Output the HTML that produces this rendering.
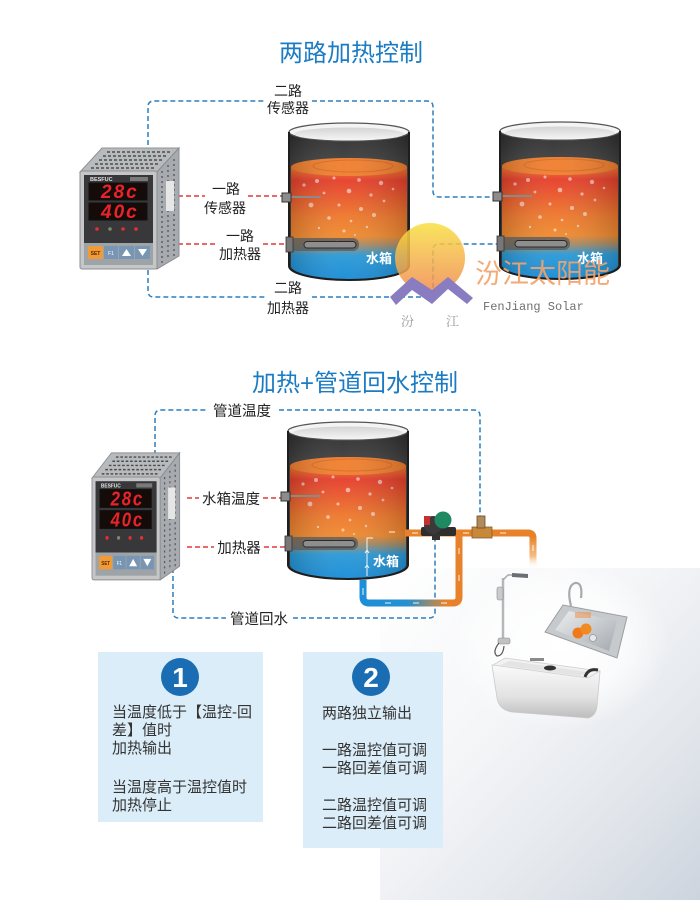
<!DOCTYPE html>
<html><head><meta charset="utf-8">
<style>
html,body{margin:0;padding:0;background:#fff;}
svg{display:block}
text{font-family:"Liberation Sans","Noto Sans CJK SC",sans-serif;}
</style></head><body>
<svg width="700" height="900" viewBox="0 0 700 900" xmlns="http://www.w3.org/2000/svg">
<defs>
  <linearGradient id="bgG" x1="0" y1="0" x2="1" y2="1">
    <stop offset="0" stop-color="#ffffff"/>
    <stop offset="0.4" stop-color="#f5f6f8"/>
    <stop offset="0.72" stop-color="#e3e7ec"/>
    <stop offset="1" stop-color="#cdd4de"/>
  </linearGradient>
  <radialGradient id="glowG" cx="0.5" cy="0.5" r="0.5">
    <stop offset="0" stop-color="#fff" stop-opacity="1"/>
    <stop offset="0.6" stop-color="#fff" stop-opacity=".7"/>
    <stop offset="1" stop-color="#fff" stop-opacity="0"/>
  </radialGradient>
  <linearGradient id="bodyG" x1="0" y1="0" x2="0" y2="1">
    <stop offset="0" stop-color="#2c2c2c"/>
    <stop offset="0.3" stop-color="#4a4a4a"/>
    <stop offset="1" stop-color="#3a3a3a"/>
  </linearGradient>
  <linearGradient id="bodyH" x1="0" y1="0" x2="1" y2="0">
    <stop offset="0" stop-color="#000" stop-opacity=".35"/>
    <stop offset="0.45" stop-color="#fff" stop-opacity=".08"/>
    <stop offset="1" stop-color="#000" stop-opacity=".35"/>
  </linearGradient>
  <linearGradient id="waterG" x1="0" y1="0" x2="0" y2="1">
    <stop offset="0" stop-color="#f07a2c"/>
    <stop offset="0.12" stop-color="#e63e2b"/>
    <stop offset="0.25" stop-color="#e9552b"/>
    <stop offset="0.45" stop-color="#ee792c"/>
    <stop offset="0.62" stop-color="#ef8a30"/>
    <stop offset="0.7" stop-color="#a38c6a"/>
    <stop offset="0.79" stop-color="#2a9ad8"/>
    <stop offset="1" stop-color="#1a8cd6"/>
  </linearGradient>
  <linearGradient id="rimG" x1="0" y1="0" x2="0" y2="1">
    <stop offset="0" stop-color="#d4d4d4"/>
    <stop offset="1" stop-color="#f6f6f6"/>
  </linearGradient>
  <linearGradient id="sunG" x1="0" y1="0" x2="0" y2="1">
    <stop offset="0" stop-color="#f8e040"/>
    <stop offset="0.45" stop-color="#f5b84a"/>
    <stop offset="1" stop-color="#ef8a4e"/>
  </linearGradient>
  <linearGradient id="pipeG" gradientUnits="userSpaceOnUse" x1="363" y1="0" x2="462" y2="0">
    <stop offset="0" stop-color="#1c8fd8"/>
    <stop offset="0.45" stop-color="#2590cf"/>
    <stop offset="0.72" stop-color="#a88a62"/>
    <stop offset="0.85" stop-color="#e8822a"/>
    <stop offset="1" stop-color="#e8822a"/>
  </linearGradient>
  <linearGradient id="fadeDown" x1="0" y1="0" x2="0" y2="1">
    <stop offset="0" stop-color="#e8822a"/>
    <stop offset="0.6" stop-color="#f0a050" stop-opacity=".7"/>
    <stop offset="1" stop-color="#ffffff" stop-opacity="0"/>
  </linearGradient>
  <linearGradient id="tubG" x1="0" y1="0" x2="0" y2="1">
    <stop offset="0" stop-color="#fafafa"/>
    <stop offset="0.6" stop-color="#e2e2e2"/>
    <stop offset="1" stop-color="#bdbdbd"/>
  </linearGradient>
  <linearGradient id="sinkG" x1="0" y1="0" x2="1" y2="1">
    <stop offset="0" stop-color="#eceef0"/>
    <stop offset="1" stop-color="#a5aab0"/>
  </linearGradient>

  <g id="tank">
    <path d="M0,9 L0,143 A60,14 0 0 0 120,143 L120,9 Z" fill="url(#bodyG)"/>
    <path d="M2,44 L2,143 A58,13 0 0 0 118,143 L118,44 Z" fill="url(#waterG)"/>
    <ellipse cx="60" cy="44" rx="58" ry="9" fill="#f07f2e"/>
    <ellipse cx="64" cy="43" rx="40" ry="6" fill="none" stroke="#d8631c" stroke-width="1" opacity=".75"/>
    <g fill="#fff" opacity=".55">
      <circle cx="15" cy="62" r="1.6"/><circle cx="28" cy="58" r="2"/><circle cx="45" cy="55" r="1.5"/>
      <circle cx="70" cy="57" r="1.8"/><circle cx="92" cy="60" r="2.2"/><circle cx="35" cy="70" r="1.4"/>
      <circle cx="60" cy="68" r="2.3"/><circle cx="82" cy="72" r="1.6"/><circle cx="22" cy="82" r="2.4"/>
      <circle cx="50" cy="82" r="1.5"/><circle cx="72" cy="86" r="2"/><circle cx="95" cy="78" r="1.4"/>
      <circle cx="40" cy="95" r="1.8"/><circle cx="62" cy="98" r="1.3"/><circle cx="85" cy="92" r="2"/>
      <circle cx="30" cy="105" r="1.2"/><circle cx="55" cy="108" r="1.5"/><circle cx="78" cy="104" r="1.2"/>
      <circle cx="48" cy="118" r="1"/><circle cx="66" cy="112" r="1"/><circle cx="104" cy="66" r="1.3"/>
    </g>
    <path d="M0,9 L0,143 A60,14 0 0 0 120,143 L120,9 Z" fill="url(#bodyH)" opacity=".5"/>
    <ellipse cx="60" cy="9" rx="60" ry="9" fill="#f4f4f4" stroke="#555" stroke-width="1.2"/>
    <ellipse cx="60" cy="11" rx="55" ry="6.5" fill="url(#rimG)"/>
    <path d="M0,9 L0,143 A60,14 0 0 0 120,143 L120,9" fill="none" stroke="#1e1e1e" stroke-width="2"/>
    <line x1="2" y1="74" x2="32" y2="74" stroke="#8a8a8a" stroke-width="2"/>
    <rect x="-7" y="70" width="9" height="9" fill="#8c8c8c" stroke="#333" stroke-width="1"/>
    <rect x="0" y="115" width="70" height="13" rx="6" fill="#5a5a5a" opacity=".75"/>
    <rect x="15" y="118.5" width="52" height="6.5" rx="3.2" fill="#8e8e8e" stroke="#2a2a2a" stroke-width="1"/>
    <rect x="-3" y="114" width="7" height="15" fill="#777" stroke="#333" stroke-width=".8"/>
  </g>

  <g id="ctrl">
    <polygon points="0,1 22,-23 99,-23 77,1" fill="#b8bbbe" stroke="#8f9295" stroke-width="1"/>
    <g stroke="#4c4c4c" stroke-width="1.4" stroke-dasharray="3 2">
      <line x1="27" y1="-19" x2="92" y2="-19"/>
      <line x1="23" y1="-15" x2="88" y2="-15"/>
      <line x1="19" y1="-11" x2="84" y2="-11"/>
      <line x1="15" y1="-7" x2="80" y2="-7"/>
      <line x1="11" y1="-3" x2="76" y2="-3"/>
    </g>
    <polygon points="77,1 99,-23 99,85 77,98" fill="#a7abaf" stroke="#8a8d90" stroke-width="1"/>
    <g stroke="#5a5a5a" stroke-width="1.4" stroke-dasharray="2 3">
      <line x1="82" y1="0" x2="82" y2="92"/>
      <line x1="88" y1="-6" x2="88" y2="89"/>
      <line x1="94" y1="-12" x2="94" y2="86"/>
    </g>
    <rect x="86" y="10" width="8" height="30" fill="#e6e6e6"/>
    <rect x="0" y="0" width="77" height="98" rx="2" fill="#c4c6c8" stroke="#8c8e90" stroke-width="1"/>
    <rect x="4" y="4" width="69" height="68" fill="#38383a"/>
    <rect x="50" y="6" width="18" height="4" fill="#7a7a7a"/>
    <rect x="9" y="12" width="58" height="17" fill="#150c0a" stroke="#111"/>
    <rect x="9" y="32" width="58" height="17" fill="#150c0a" stroke="#111"/>
    <circle cx="17" cy="58" r="1.8" fill="#e63030"/>
    <circle cx="30" cy="58" r="1.8" fill="#7a8a6a"/>
    <circle cx="43" cy="58" r="1.8" fill="#e63030"/>
    <circle cx="56" cy="58" r="1.8" fill="#e63030"/>
    <rect x="4" y="72" width="69" height="22" fill="#9ea3a8"/>
    <rect x="8" y="75" width="15" height="13" fill="#f09a38"/>
    <rect x="24" y="75" width="14" height="13" fill="#7896b3"/>
    <rect x="39" y="75" width="15" height="13" fill="#7896b3"/>
    <polygon points="46.5,78 51,85 42,85" fill="#fff"/>
    <rect x="55" y="75" width="15" height="13" fill="#7896b3"/>
    <polygon points="58,78 67,78 62.5,85" fill="#fff"/>
  </g>
</defs>

<!-- background gradient bottom-right -->
<rect x="380" y="568" width="320" height="332" fill="url(#bgG)"/>
<ellipse cx="560" cy="645" rx="110" ry="85" fill="url(#glowG)"/>

<!-- ================= Section 1 ================= -->
<text x="351" y="61" font-size="24" fill="#1b7cc3" text-anchor="middle">两路加热控制</text>

<g fill="none" stroke="#2b7fc0" stroke-width="1.5" stroke-dasharray="5 3">
  <path d="M148,153 V107 Q148,101 154,101 H265"/>
  <path d="M312,101 H427 Q433,101 433,107 V191 Q433,197 439,197 H494"/>
  <path d="M148,270 V291 Q148,297 154,297 H265"/>
  <path d="M312,297 H427 Q433,297 433,291 V250 Q433,244 439,244 H500"/>
</g>
<g fill="none" stroke="#e0393b" stroke-width="1.5" stroke-dasharray="5 3">
  <path d="M178,196 H205"/>
  <path d="M248,196 H283"/>
  <path d="M170,244 H216"/>
  <path d="M263,244 H290"/>
</g>

<use href="#ctrl" transform="translate(80,171)"/>
<g transform="translate(80,171)">
  <text x="10" y="10" font-size="5.5" font-weight="bold" fill="#e0e0e0">BESFUC</text>
  <text x="21" y="27" font-size="19" font-weight="bold" font-style="italic" fill="#e8242a" letter-spacing="2">28c</text>
  <text x="21" y="47" font-size="19" font-weight="bold" font-style="italic" fill="#e8242a" letter-spacing="2">40c</text>
  <text x="15.5" y="84" font-size="5" font-weight="bold" fill="#5a2a00" text-anchor="middle">SET</text>
  <text x="31" y="84" font-size="5" fill="#fff" text-anchor="middle">F1</text>
</g>
<use href="#tank" transform="translate(289,123)"/>
<text x="366" y="263" font-size="13" font-weight="bold" fill="#fff">水箱</text>
<use href="#tank" transform="translate(500,122)"/>
<text x="577" y="263" font-size="13" font-weight="bold" fill="#fff">水箱</text>

<g font-size="14" fill="#222" text-anchor="middle">
  <text x="288" y="96">二路</text>
  <text x="288" y="113">传感器</text>
  <text x="226" y="194">一路</text>
  <text x="225" y="213">传感器</text>
  <text x="240" y="241">一路</text>
  <text x="240" y="259">加热器</text>
  <text x="288" y="293">二路</text>
  <text x="288" y="313">加热器</text>
</g>

<!-- logo -->
<circle cx="430" cy="258" r="35" fill="url(#sunG)" opacity=".85"/>
<polygon points="390,297 412,277 432,290 448,277 473,298 467,304 448,289 432,304 412,290 396,305" fill="#8a7cc0"/>
<text x="475" y="283" font-size="27" fill="#f2a36b" opacity=".92">汾江太阳能</text>
<text x="483" y="310" font-size="12" fill="#6f6f6f" style="font-family:'Liberation Mono',monospace">FenJiang Solar</text>
<text x="401" y="326" font-size="13" fill="#999" style="font-family:'Noto Serif CJK SC',serif">汾</text>
<text x="446" y="326" font-size="13" fill="#999" style="font-family:'Noto Serif CJK SC',serif">江</text>

<!-- ================= Section 2 ================= -->
<text x="355" y="391" font-size="24" fill="#1b7cc3" text-anchor="middle">加热+管道回水控制</text>

<g fill="none" stroke="#2b7fc0" stroke-width="1.5" stroke-dasharray="5 3">
  <path d="M155,463 V416 Q155,410 161,410 H206"/>
  <path d="M279,410 H474 Q480,410 480,416 V516"/>
  <path d="M173,568 V612 Q173,618 179,618 H226"/>
  <path d="M293,618 H429 Q435,618 435,612 V540"/>
</g>
<g fill="none" stroke="#e0393b" stroke-width="1.5" stroke-dasharray="5 3">
  <path d="M187,498 H199"/>
  <path d="M263,498 H283"/>
  <path d="M187,547 H214"/>
  <path d="M264,547 H289"/>
</g>

<use href="#ctrl" transform="translate(92,477) scale(0.885,1.05)"/>
<g transform="translate(92,477) scale(0.885,1.05)">
  <text x="10" y="10" font-size="5.5" font-weight="bold" fill="#e0e0e0">BESFUC</text>
  <text x="21" y="27" font-size="19" font-weight="bold" font-style="italic" fill="#e8242a" letter-spacing="2">28c</text>
  <text x="21" y="47" font-size="19" font-weight="bold" font-style="italic" fill="#e8242a" letter-spacing="2">40c</text>
  <text x="15.5" y="84" font-size="5" font-weight="bold" fill="#5a2a00" text-anchor="middle">SET</text>
  <text x="31" y="84" font-size="5" fill="#fff" text-anchor="middle">F1</text>
</g>

<!-- pipes -->
<path d="M459,533 V597 Q459,603 453,603 H369 Q363,603 363,597 V580" fill="none" stroke="url(#pipeG)" stroke-width="7"/>
<use href="#tank" transform="translate(288,422)"/>
<text x="373" y="566" font-size="13" font-weight="bold" fill="#fff">水箱</text>
<path d="M405,533 H528 Q533,533 533,538" fill="none" stroke="#e8822a" stroke-width="7"/>
<rect x="529.5" y="537" width="7" height="32" fill="url(#fadeDown)"/>

<g stroke="#fff" stroke-width="1" fill="none" opacity=".9">
  <path d="M367,576 V538 H373"/>
  <path d="M365,568 L367,565 L369,568"/>
  <path d="M365,553 L367,550 L369,553"/>
  <path d="M363,595 L363,588"/>
  <path d="M389,532 H395"/>
  <path d="M412,533 H418"/>
  <path d="M463,533 H469"/>
  <path d="M500,533 H506"/>
  <path d="M459,548 V554"/>
  <path d="M459,575 V581"/>
  <path d="M385,603 H391"/>
  <path d="M413,603 H419"/>
  <path d="M441,603 H447"/>
  <path d="M533,545 V551"/>
</g>

<!-- pump -->
<rect x="421" y="527" width="35" height="9" rx="2" fill="#2e2e2e"/>
<circle cx="433" cy="525" r="9" fill="#3a3a3a"/>
<circle cx="443" cy="520" r="8.5" fill="#1f8a62"/>
<rect x="424" y="516" width="6" height="9" fill="#c83030"/>
<rect x="432" y="534" width="8" height="6" fill="#333"/>
<!-- valve -->
<rect x="472" y="527" width="20" height="11" fill="#c8883a" stroke="#8a5a2a" stroke-width=".8"/>
<rect x="477" y="516" width="8" height="12" fill="#b08a5a" stroke="#6a4a2a" stroke-width=".8"/>

<g font-size="14.5" fill="#222" text-anchor="middle">
  <text x="242" y="416">管道温度</text>
  <text x="231" y="504">水箱温度</text>
  <text x="239" y="553">加热器</text>
  <text x="259" y="624">管道回水</text>
</g>

<!-- fixtures -->
<g>
  <line x1="503" y1="578" x2="503" y2="644" stroke="#b5b8bb" stroke-width="2.5"/>
  <path d="M503,580 L508,575 H516" fill="none" stroke="#aaa" stroke-width="1.5"/>
  <polygon points="512,573 528,574 528,578 512,577" fill="#6b6e72"/>
  <rect x="497" y="587" width="6" height="13" rx="2" fill="#c8cacc" stroke="#888" stroke-width=".6"/>
  <rect x="498" y="638" width="12" height="6" rx="2" fill="#c0c2c4" stroke="#888" stroke-width=".6"/>
  <path d="M499,643 Q492,652 497,656 Q503,656 504,646" fill="none" stroke="#555" stroke-width="1.2"/>
</g>
<g>
  <polygon points="545,632 563,605 627,617 617,658" fill="#c6cacd" stroke="#9a9ea2" stroke-width="1"/>
  <polygon points="555,630 569,611 617,621 609,651" fill="url(#sinkG)"/>
  <path d="M571,606 Q566,586 575,583 Q583,582 581,598" fill="none" stroke="#a8abae" stroke-width="2.2"/>
  <rect x="575" y="612" width="16" height="6" fill="#f08a3a" opacity=".5"/>
  <circle cx="578" cy="633" r="5.5" fill="#f07a1a"/>
  <circle cx="586" cy="629" r="5.5" fill="#f28a22"/>
  <circle cx="593" cy="638" r="3.5" fill="#e8e8e8" stroke="#999" stroke-width=".8"/>
</g>
<g>
  <path d="M492,665 L497,698 Q499,710 512,712 L588,718 Q596,716 597,706 L600,672 Z" fill="url(#tubG)" stroke="#c9c9c9" stroke-width=".8"/>
  <polygon points="493,665 505,658 600,671 588,678" fill="#f2f2f2" stroke="#d0d0d0" stroke-width=".8"/>
  <polygon points="500,665 510,661 588,672 580,676" fill="#e4e4e4"/>
  <rect x="530" y="658" width="14" height="3" fill="#8a8a8a"/>
  <ellipse cx="550" cy="668" rx="6" ry="2.5" fill="#333"/>
  <path d="M585,677 Q588,668 598,670" fill="none" stroke="#333" stroke-width="3"/>
</g>

<!-- info boxes -->
<rect x="98" y="652" width="165" height="170" fill="#dbedf8"/>
<circle cx="180" cy="677" r="19" fill="#1a6db3"/>
<text x="180" y="687" font-size="28" font-weight="bold" fill="#fff" text-anchor="middle">1</text>
<g font-size="15" fill="#333">
  <text x="112" y="717">当温度低于【温控-回</text>
  <text x="112" y="735">差】值时</text>
  <text x="112" y="753">加热输出</text>
  <text x="112" y="792">当温度高于温控值时</text>
  <text x="112" y="810">加热停止</text>
</g>

<rect x="303" y="652" width="140" height="196" fill="#dbedf8"/>
<circle cx="371" cy="677" r="19" fill="#1a6db3"/>
<text x="371" y="687" font-size="28" font-weight="bold" fill="#fff" text-anchor="middle">2</text>
<g font-size="15" fill="#333">
  <text x="322" y="718">两路独立输出</text>
  <text x="322" y="755">一路温控值可调</text>
  <text x="322" y="773">一路回差值可调</text>
  <text x="322" y="810">二路温控值可调</text>
  <text x="322" y="828">二路回差值可调</text>
</g>
</svg>
</body></html>
